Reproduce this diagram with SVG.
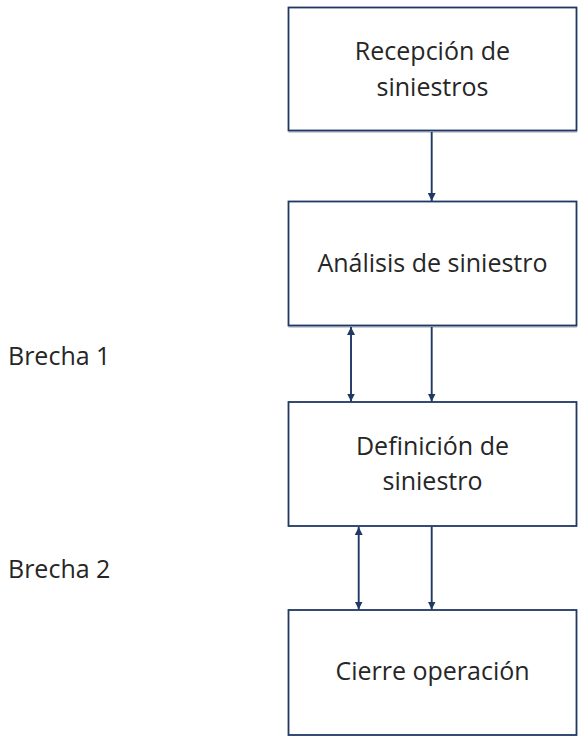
<svg xmlns="http://www.w3.org/2000/svg" width="578" height="737" viewBox="0 0 578 737">
<style>
.box{fill:#fff;stroke:#1f3864;stroke-width:1.8}
.sh{stroke:#1f3864;stroke-width:1.2;opacity:0.45}
.t{font-family:"Open Sans","Noto Sans",sans-serif;font-size:25px;fill:#262626;text-anchor:middle}
.l{font-family:"Open Sans","Noto Sans",sans-serif;font-size:25px;fill:#262626}
.c{stroke:#1f3864;stroke-width:1.9;fill:none}
</style>
<defs>
<marker id="ah" viewBox="0 0 8 8" refX="8" refY="4" markerWidth="8" markerHeight="8" markerUnits="userSpaceOnUse" orient="auto-start-reverse">
<path d="M0,0 L8,4 L0,8 z" fill="#1f3864"/>
</marker>
</defs>
<rect width="578" height="737" fill="#fff"/>
<g id="connectors">
<line class="c" x1="431.7" y1="132" x2="431.7" y2="201" marker-end="url(#ah)"/>
<line class="c" x1="351" y1="327" x2="351" y2="401.5" marker-start="url(#ah)" marker-end="url(#ah)"/>
<line class="c" x1="431.7" y1="327" x2="431.7" y2="401.5" marker-end="url(#ah)"/>
<line class="c" x1="358.7" y1="527" x2="358.7" y2="609.5" marker-start="url(#ah)" marker-end="url(#ah)"/>
<line class="c" x1="431.7" y1="527" x2="431.7" y2="609.5" marker-end="url(#ah)"/>
</g>
<g id="n1">
<rect class="box" x="288.5" y="7.5" width="288" height="123"/>
<line class="sh" x1="288.5" y1="132" x2="577" y2="132"/>
<text class="t" x="432.5" y="60">Recepción de</text>
<text class="t" x="432.5" y="96">siniestros</text>
</g>
<g id="n2">
<rect class="box" x="288.5" y="201.5" width="288" height="124"/>
<line class="sh" x1="288.5" y1="327" x2="577" y2="327"/>
<text class="t" x="432.5" y="272">Análisis de siniestro</text>
</g>
<g id="n3">
<rect class="box" x="288.5" y="402" width="288" height="124"/>
<text class="t" x="432.5" y="455">Definición de</text>
<text class="t" x="432.5" y="490">siniestro</text>
</g>
<g id="n4">
<rect class="box" x="288.5" y="610" width="288" height="125"/>
<text class="t" x="432.5" y="680">Cierre operación</text>
</g>
<g id="labels">
<text class="l" x="8" y="365">Brecha 1</text>
<text class="l" x="8" y="578">Brecha 2</text>
</g>
</svg>
